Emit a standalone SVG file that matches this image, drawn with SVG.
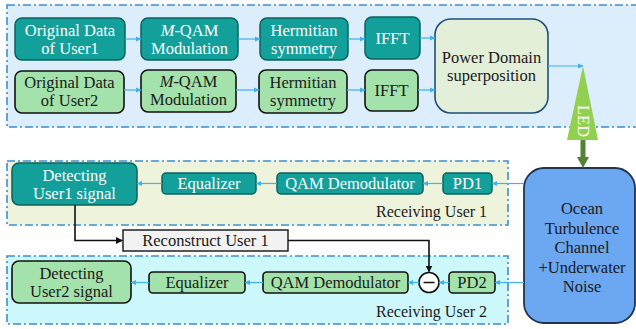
<svg xmlns="http://www.w3.org/2000/svg" width="636" height="329" viewBox="0 0 636 329">
<defs>
<marker id="ab" markerWidth="6" markerHeight="6" refX="5" refY="3" orient="auto" markerUnits="userSpaceOnUse"><path d="M0,0.5 L5.5,3 L0,5.5 Z" fill="#3fb0f0"/></marker>
<marker id="ak" markerWidth="8" markerHeight="8" refX="6" refY="3.5" orient="auto" markerUnits="userSpaceOnUse"><path d="M0,0 L7,3.5 L0,7 Z" fill="#111"/></marker>
<style>
.cont{stroke:#3a8fd4;stroke-width:1.6;stroke-dasharray:8 3 2 3;}
.teal{fill:#13a09a;stroke:#0b625e;stroke-width:1.5;}
.grn{fill:#a3e2ab;stroke:#111;stroke-width:1.6;}
.tw{font-family:"Liberation Serif",serif;font-size:16.5px;fill:#ffffff;text-anchor:middle;}
.tb{font-family:"Liberation Serif",serif;font-size:16.5px;fill:#1a1a1a;text-anchor:middle;}
.lbl{font-family:"Liberation Serif",serif;font-size:16px;fill:#1a1a1a;}
.ba{stroke:#3fb0f0;stroke-width:1.2;fill:none;marker-end:url(#ab);}
.ka{stroke:#111;stroke-width:1.6;fill:none;}
</style>
</defs>
<g id="containers">
<rect x="7" y="5" width="640" height="122" fill="#dcedfb" class="cont"/>
<rect x="7" y="161" width="501" height="64" fill="#eef4dc" class="cont"/>
<rect x="7" y="256" width="501" height="68" fill="#cdf8fb" class="cont"/>
<text class="lbl" x="376" y="217">Receiving User 1</text>
<text class="lbl" x="376" y="317">Receiving User 2</text>
</g>
<g id="u1-data"><rect class="teal" x="15" y="18" width="110" height="42" rx="7"/><text class="tw" x="70" y="35.5">Original Data</text><text class="tw" x="70" y="53.5">of User1</text></g>
<g id="u1-qam"><rect class="teal" x="141" y="18" width="97" height="42" rx="7"/><text class="tw" x="189.5" y="35.5"><tspan font-style="italic">M</tspan>-QAM</text><text class="tw" x="189.5" y="53.5">Modulation</text></g>
<g id="u1-herm"><rect class="teal" x="260" y="18" width="88" height="42" rx="7"/><text class="tw" x="304" y="35.5">Hermitian</text><text class="tw" x="304" y="53.5">symmetry</text></g>
<g id="u1-ifft"><rect class="teal" x="365" y="17" width="55" height="42" rx="7"/><text class="tw" x="392.5" y="43.5">IFFT</text></g>
<g id="u2-data"><rect class="grn" x="15" y="71" width="109" height="42" rx="7"/><text class="tb" x="69.5" y="88">Original Data</text><text class="tb" x="69.5" y="106">of User2</text></g>
<g id="u2-qam"><rect class="grn" x="141" y="70" width="95" height="42" rx="7"/><text class="tb" x="188.5" y="87"><tspan font-style="italic">M</tspan>-QAM</text><text class="tb" x="188.5" y="105">Modulation</text></g>
<g id="u2-herm"><rect class="grn" x="259" y="70" width="88" height="43" rx="7"/><text class="tb" x="303" y="87.5">Hermitian</text><text class="tb" x="303" y="105.5">symmetry</text></g>
<g id="u2-ifft"><rect class="grn" x="365" y="70" width="53" height="41" rx="7"/><text class="tb" x="391.5" y="96">IFFT</text></g>
<g id="power"><rect x="435" y="19" width="113" height="94" rx="16" fill="#e3efd9" stroke="#1f4e79" stroke-width="1.6"/><text class="tb" x="491.5" y="63">Power Domain</text><text class="tb" x="491.5" y="81">superposition</text></g>
<g id="led"><path d="M583,66 L598,140 L567,140 Z" fill="#92d050"/><text class="tw" transform="translate(578,121) rotate(90)">LED</text></g>
<g id="ocean"><rect x="524" y="168" width="111" height="155" rx="20" fill="#6ca7f2" stroke="#1f3450" stroke-width="1.8"/><text class="tb" x="582" y="214">Ocean</text><text class="tb" x="582" y="234">Turbulence</text><text class="tb" x="582" y="253">Channel</text><text class="tb" x="582" y="273">+Underwater</text><text class="tb" x="582" y="292">Noise</text></g>
<g id="pd1"><rect class="teal" x="443" y="173" width="49" height="21" rx="4"/><text class="tw" x="467.5" y="189">PD1</text></g>
<g id="qam-demod1"><rect class="teal" x="277" y="173" width="146" height="21" rx="4"/><text class="tw" x="350" y="189">QAM Demodulator</text></g>
<g id="eq1"><rect class="teal" x="162" y="173" width="94" height="21" rx="4"/><text class="tw" x="209" y="189">Equalizer</text></g>
<g id="det1"><rect class="teal" x="12" y="163" width="125" height="42" rx="7"/><text class="tw" x="74.5" y="180.5">Detecting</text><text class="tw" x="74.5" y="198.5">User1 signal</text></g>
<g id="reconstruct"><rect x="123" y="230" width="165" height="21" fill="#f2f2f2" stroke="#222" stroke-width="1.5"/><text class="tb" x="205.5" y="246">Reconstruct User 1</text></g>
<g id="pd2"><rect class="grn" x="449" y="272" width="46" height="21" rx="4"/><text class="tb" x="472" y="288">PD2</text></g>
<g id="minus"><circle cx="429" cy="282.5" r="10" fill="#fff" stroke="#111" stroke-width="1.6"/><line x1="423.5" y1="282.5" x2="434.5" y2="282.5" stroke="#111" stroke-width="1.5"/></g>
<g id="qam-demod2"><rect class="grn" x="263" y="272" width="145" height="21" rx="4"/><text class="tb" x="335.5" y="288">QAM Demodulator</text></g>
<g id="eq2"><rect class="grn" x="149" y="272" width="96" height="21" rx="4"/><text class="tb" x="197" y="288">Equalizer</text></g>
<g id="det2"><rect class="grn" x="12" y="261" width="119" height="42" rx="7"/><text class="tb" x="71.5" y="278.5">Detecting</text><text class="tb" x="71.5" y="296.5">User2 signal</text></g>
<g id="connectors">
<line class="ba" x1="125" y1="39" x2="141" y2="39"/>
<line class="ba" x1="238" y1="39" x2="260" y2="39"/>
<line class="ba" x1="348" y1="39" x2="365" y2="39"/>
<line class="ba" x1="420" y1="38" x2="435" y2="38"/>
<line class="ba" x1="124" y1="90" x2="141" y2="90"/>
<line class="ba" x1="236" y1="90" x2="259" y2="90"/>
<line class="ba" x1="347" y1="90" x2="365" y2="90"/>
<line class="ba" x1="418" y1="90" x2="435" y2="90"/>
<line class="ba" x1="548" y1="66" x2="583" y2="66"/>
<line x1="583" y1="140" x2="583" y2="158" stroke="#548235" stroke-width="5"/>
<path d="M577,157 L589,157 L583,168 Z" fill="#548235"/>
<line class="ba" x1="524" y1="183.5" x2="492" y2="183.5"/>
<line class="ba" x1="443" y1="183.5" x2="423" y2="183.5"/>
<line class="ba" x1="277" y1="183.5" x2="256" y2="183.5"/>
<line class="ba" x1="162" y1="183.5" x2="137" y2="183.5"/>
<line class="ba" x1="524" y1="282.5" x2="495" y2="282.5"/>
<line class="ba" x1="449" y1="282.5" x2="439" y2="282.5"/>
<line class="ba" x1="419" y1="282.5" x2="408" y2="282.5"/>
<line class="ba" x1="263" y1="282.5" x2="245" y2="282.5"/>
<line class="ba" x1="149" y1="282.5" x2="131" y2="282.5"/>
<path class="ka" d="M75,205 V240.5 H122" marker-end="url(#ak)"/>
<path class="ka" d="M288,240.5 H429 V271.5" marker-end="url(#ak)"/>
</g>
</svg>
